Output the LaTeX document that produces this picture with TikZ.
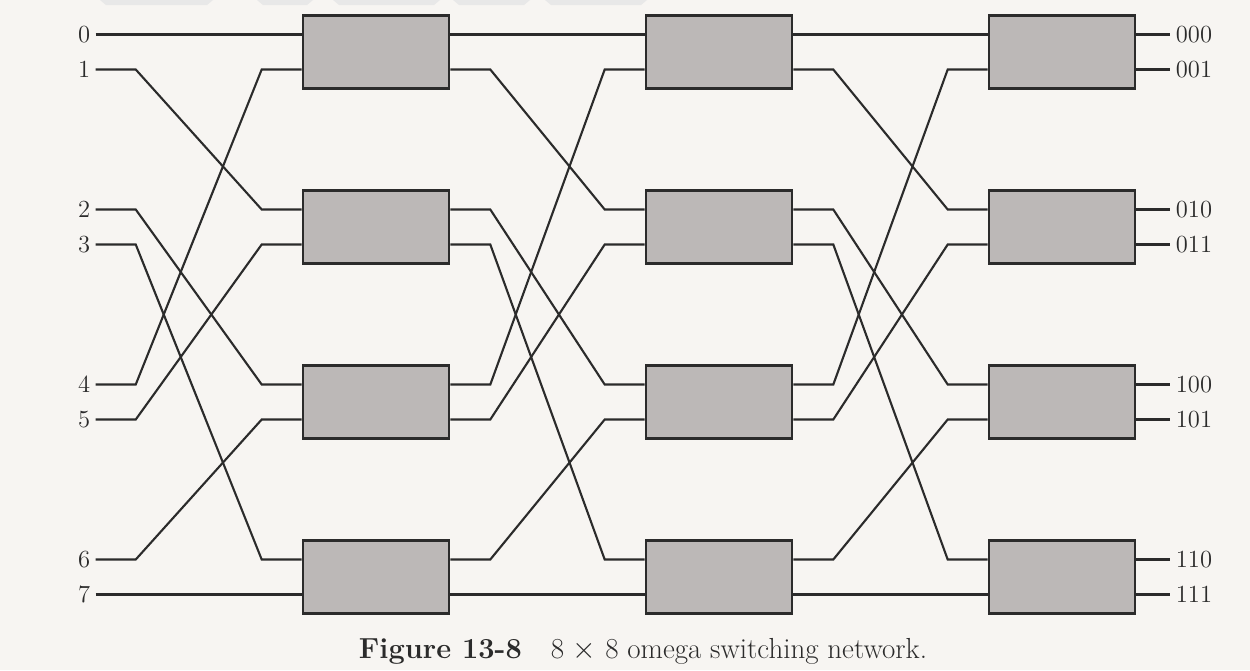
\documentclass[tikz,border=0pt]{standalone}
\usetikzlibrary{positioning, calc}
\definecolor{switchgray}{HTML}{BCB8B7}
\definecolor{paper}{HTML}{F7F5F2}
\definecolor{inkgray}{HTML}{2B2B2B}

\tikzset{
  switchbox/.style={draw=inkgray, line width=1.5pt, fill=switchgray,
    minimum width=2.92cm, minimum height=1.46cm, inner sep=0pt},
  wire/.style={draw=inkgray, line width=1.2pt},
  portlbl/.style={font=\fontsize{14}{16}\selectfont, text=inkgray, inner sep=3pt},
}

\begin{document}
\begin{tikzpicture}[x=0.02cm, y=-0.02cm]
% Page
\fill[paper] (0,0) rectangle (1250,670);
\useasboundingbox (0,0) rectangle (1250,670);

% Faint marks along the top edge
\foreach \a/\b in {100/213,257/313,333/440,453/530,545/647}
  \fill[gray!18] (\a,0) -- (\b,0) -- (\b-6,5) -- (\a+6,5) -- cycle;

% Switch boxes, three stages of four
\foreach \s/\x in {1/376,2/719,3/1062} {
  \foreach \r in {0,1,2,3} {
    \node[switchbox] (sw\s\r) at (\x,52+175*\r) {};
    \pgfmathtruncatemacro\a{2*\r}
    \pgfmathtruncatemacro\b{2*\r+1}
    \coordinate (c\s-\a) at ($(sw\s\r.west)+(0,-17.5)$);
    \coordinate (c\s-\b) at ($(sw\s\r.west)+(0,17.5)$);
    \coordinate (o\s-\a) at ($(sw\s\r.east)+(0,-17.5)$);
    \coordinate (o\s-\b) at ($(sw\s\r.east)+(0,17.5)$);
  }
}

% Input terminals
\foreach \p in {0,...,7}
  \node[portlbl, left=4.12cm of c1-\p] (in\p) {\p};

% Perfect shuffle in front of each stage
\foreach \p/\q in {0/0,1/2,2/4,3/6,4/1,5/3,6/5,7/7} {
  \draw[wire] (in\p.east) -- ++(40,0) -- ($(c1-\q)+(-40,0)$) -- (c1-\q);
  \draw[wire] (o1-\p) -- ++(40,0) -- ($(c2-\q)+(-40,0)$) -- (c2-\q);
  \draw[wire] (o2-\p) -- ++(40,0) -- ($(c3-\q)+(-40,0)$) -- (c3-\q);
}

% Output terminals
\foreach \p/\lbl in {0/000,1/001,2/010,3/011,4/100,5/101,6/110,7/111} {
  \node[portlbl, right=0.68cm of o3-\p] (out\p) {\lbl};
  \draw[wire] (o3-\p) -- (out\p.west);
}

% Caption
\node[font=\fontsize{16.5}{20}\selectfont, text=inkgray] (caption) at (643,651)
  {\textbf{Figure 13-8}\quad 8 $\times$ 8 omega switching network.};

\end{tikzpicture}
\end{document}
